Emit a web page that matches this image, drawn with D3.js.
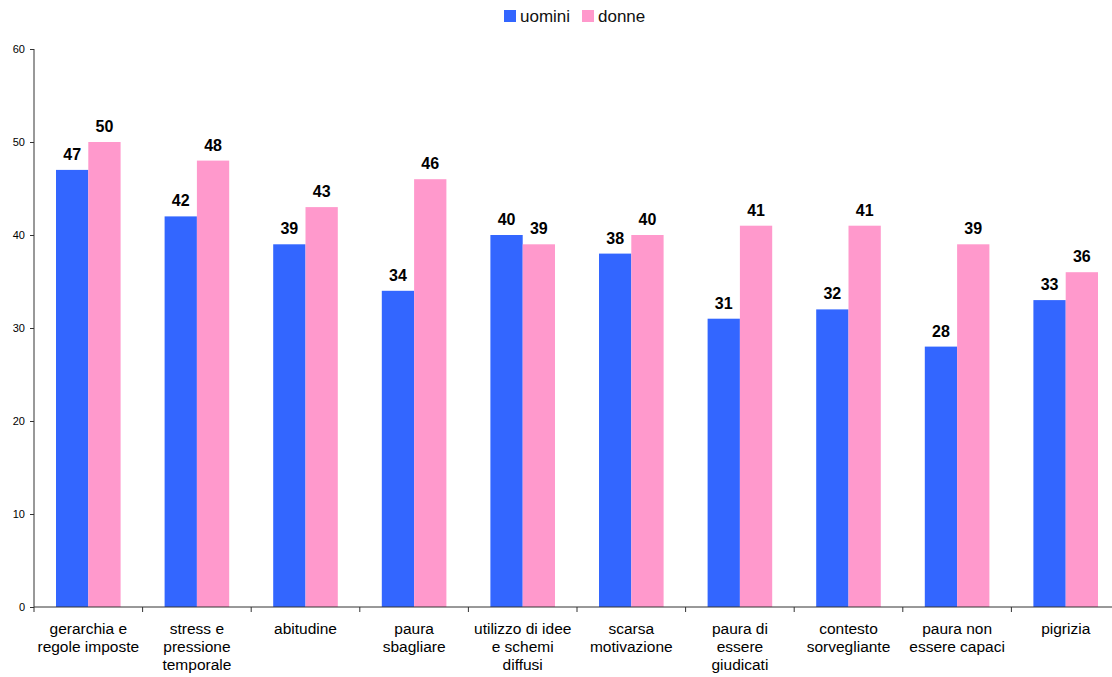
<html>
  <head>
    <meta charset="utf-8">
    <title>uomini / donne</title>
    <script src="https://cdnjs.cloudflare.com/ajax/libs/d3/7.8.5/d3.min.js"></script>
    <style>
      body { margin: 0; background: #fff; }
      text { font-family: "Liberation Sans", Arial, sans-serif; }
    </style>
  </head>
  <body>
    <div id="chart"></div>
<script>
  // data
  const categories = [
    ["gerarchia e", "regole imposte"],
    ["stress e", "pressione", "temporale"],
    ["abitudine"],
    ["paura", "sbagliare"],
    ["utilizzo di idee", "e schemi", "diffusi"],
    ["scarsa", "motivazione"],
    ["paura di", "essere", "giudicati"],
    ["contesto", "sorvegliante"],
    ["paura non", "essere capaci"],
    ["pigrizia"]
  ];
  const uomini = [47, 42, 39, 34, 40, 38, 31, 32, 28, 33];
  const donne  = [50, 48, 43, 46, 39, 40, 41, 41, 39, 36];
  const seriesNames = ["uomini", "donne"];
  const seriesColors = ["#3366FF", "#FF99CC"];
  const yTicks = [0, 10, 20, 30, 40, 50, 60];

  const W = 1112, H = 677;
  const mLeft = 34, mRight = 1120, mTop = 49, mBottom = 607;

  const svg = d3.select('#chart').append('svg')
    .attr('width', W).attr('height', H);

  const x = d3.scaleBand()
    .domain(d3.range(categories.length))
    .range([mLeft, mRight])
    .paddingInner(0).paddingOuter(0);

  const inner = d3.scaleBand()
    .domain(seriesNames)
    .range([22, x.bandwidth() - 22]);

  const y = d3.scaleLinear().domain([0, 60]).range([mBottom, mTop]);

  // y axis
  const yAxis = svg.append('g')
    .attr('transform', `translate(${mLeft},0)`)
    .call(d3.axisLeft(y).tickValues(yTicks).tickSize(4).tickPadding(5));
  yAxis.selectAll('line, path').attr('stroke', '#333');
  yAxis.select('.domain').attr('d', `M0,${mTop}V${mBottom}`);
  yAxis.selectAll('text')
    .attr('font-size', 11)
    .attr('font-family', '"Liberation Sans", Arial, sans-serif')
    .attr('fill', '#000');

  // bars
  const data = categories.map((c, i) => ({ i, vals: [uomini[i], donne[i]] }));
  const groups = svg.selectAll('g.cat')
    .data(data)
    .join('g')
    .attr('class', 'cat')
    .attr('transform', d => `translate(${x(d.i)},0)`);

  groups.selectAll('rect')
    .data(d => d.vals.map((v, k) => ({ name: seriesNames[k], v, k })))
    .join('rect')
    .attr('x', d => inner(d.name))
    .attr('width', inner.bandwidth())
    .attr('y', d => y(d.v))
    .attr('height', d => mBottom - y(d.v))
    .attr('fill', d => seriesColors[d.k]);

  groups.selectAll('text.val')
    .data(d => d.vals.map((v, k) => ({ name: seriesNames[k], v, k })))
    .join('text')
    .attr('class', 'val')
    .attr('x', d => inner(d.name) + inner.bandwidth() / 2)
    .attr('y', d => y(d.v) - 10)
    .attr('text-anchor', 'middle')
    .attr('font-size', 16)
    .attr('font-weight', 'bold')
    .text(d => d.v);

  // x axis
  svg.append('line')
    .attr('x1', mLeft).attr('x2', mRight)
    .attr('y1', mBottom).attr('y2', mBottom)
    .attr('stroke', '#333');
  svg.selectAll('line.xt')
    .data(d3.range(categories.length + 1))
    .join('line')
    .attr('class', 'xt')
    .attr('x1', d => mLeft + d * x.step()).attr('x2', d => mLeft + d * x.step())
    .attr('y1', mBottom).attr('y2', mBottom + 5)
    .attr('stroke', '#333');

  const labels = svg.selectAll('text.cat')
    .data(categories)
    .join('text')
    .attr('class', 'cat')
    .attr('text-anchor', 'middle')
    .attr('font-size', 15.5)
    .attr('fill', '#000')
    .attr('transform', (d, i) => `translate(${x(i) + x.bandwidth() / 2},634)`);
  labels.selectAll('tspan')
    .data(d => d)
    .join('tspan')
    .attr('x', 0)
    .attr('y', (d, j) => j * 18)
    .text(d => d);

  // legend
  const legend = svg.append('g').attr('transform', 'translate(504,10)');
  const items = [
    { name: seriesNames[0], color: seriesColors[0], dx: 0 },
    { name: seriesNames[1], color: seriesColors[1], dx: 78 }
  ];
  legend.selectAll('rect')
    .data(items)
    .join('rect')
    .attr('x', d => d.dx).attr('y', 0)
    .attr('width', 12).attr('height', 12)
    .attr('fill', d => d.color);
  legend.selectAll('text')
    .data(items)
    .join('text')
    .attr('x', d => d.dx + 16).attr('y', 12)
    .attr('font-size', 17)
    .attr('fill', '#111')
    .text(d => d.name);
</script>
  </body>
</html>
